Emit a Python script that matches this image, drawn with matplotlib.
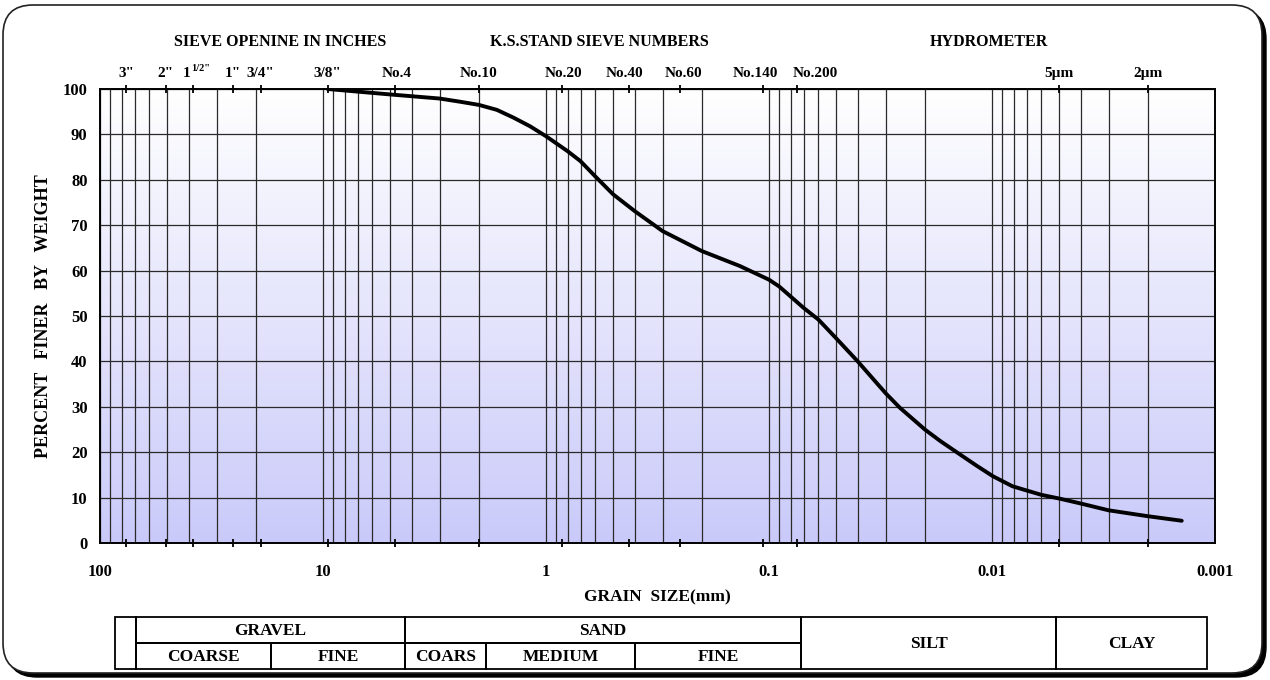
import numpy as np
import matplotlib
matplotlib.use("Agg")
import matplotlib.pyplot as plt
from matplotlib.patches import FancyBboxPatch, Rectangle
from matplotlib.ticker import FixedLocator, LogLocator, NullFormatter

plt.rcParams['font.family'] = ['Liberation Serif', 'DejaVu Serif']
plt.rcParams['font.weight'] = 'bold'

# DATA
grain_size = [9.525, 5.0, 3.0, 2.43, 2.0, 1.66, 1.4, 1.18, 1.0, 0.8, 0.7, 0.6, 0.5, 0.4,
              0.3, 0.2, 0.135, 0.1, 0.09, 0.08, 0.07, 0.06, 0.05, 0.04, 0.03,
              0.0259, 0.02, 0.0171, 0.0144, 0.0117, 0.0099, 0.0081, 0.006, 0.005,
              0.004, 0.003, 0.002, 0.00141]
percent_finer = [100, 98.8, 97.9, 97.2, 96.5, 95.4, 93.7, 91.8, 89.6, 86.3, 84.1, 80.7, 76.8, 73.1,
                 68.7, 64.3, 61.0, 58.0, 56.5, 54.3, 51.8, 49.2, 45.1, 40.0, 33.0,
                 29.8, 25.0, 22.5, 20.0, 17.0, 14.7, 12.5, 10.6, 9.8,
                 8.7, 7.2, 5.9, 4.9]

sieve_sizes = [76.2, 50.8, 38.1, 25.4, 19.05, 9.525, 4.75, 2.0, 0.85, 0.425, 0.25,
               0.106, 0.075, 0.005, 0.002]
sieve_labels = ['3"', '2"', '1', '1"', '3/4"', '3/8"', 'No.4',
                'No.10', 'No.20', 'No.40', 'No.60', 'No.140', 'No.200', '5\u00b5m', '2\u00b5m']
label_shift = [0, 0, -5, 0, 0, 0, 1, 0, 1, -3, 2, -6, 13, 0, 0]  # points

x_major = [100, 10, 1, 0.1, 0.01, 0.001]
x_major_labels = ['100', '10', '1', '0.1', '0.01', '0.001']
y_ticks = list(range(0, 101, 10))

headers = ['SIEVE OPENINE IN INCHES', 'K.S.STAND SIEVE NUMBERS', 'HYDROMETER']

# soil classification table (cells: label, x0, x1, row) row 0=top, 1=bottom, 2=both
table_cells = [('', 115, 136, 2),
               ('GRAVEL', 136, 405, 0), ('COARSE', 136, 271, 1), ('FINE', 271, 405, 1),
               ('SAND', 405, 801, 0), ('COARS', 405, 486, 1), ('MEDIUM', 486, 635, 1),
               ('FINE', 635, 801, 1),
               ('SILT', 801, 1056, 2), ('CLAY', 1056, 1207, 2)]

W, H = 1270, 680
fig = plt.figure(figsize=(W / 100, H / 100), dpi=100)

# overlay in pixel units: frame, background, titles, table
bg = fig.add_axes([0, 0, 1, 1], zorder=0)
bg.set_xlim(0, W)
bg.set_ylim(H, 0)
bg.axis('off')

bg.add_patch(FancyBboxPatch((7, 9), 1259, 668, boxstyle='round,pad=0,rounding_size=30',
                            fc='black', ec='black', lw=1))
bg.add_patch(FancyBboxPatch((3, 5), 1259, 668, boxstyle='round,pad=0,rounding_size=30',
                            fc='white', ec='#222222', lw=1.2))

ax_l, ax_r, ax_t, ax_b = 100, 1215, 89, 543
top_c = np.array([255, 255, 255]) / 255
bot_c = np.array([202, 202, 250]) / 255
t = np.linspace(0, 1, 256).reshape(-1, 1, 1)
grad = top_c * (1 - t) + bot_c * t
bg.imshow(grad, extent=[ax_l, ax_r, ax_b, ax_t], aspect='auto', origin='upper', zorder=1)

bg.text(280, 42, headers[0], ha='center', va='center', fontsize=11.5, fontweight='bold')
bg.text(599, 42, headers[1], ha='center', va='center', fontsize=11.5, fontweight='bold')
bg.text(989, 42, headers[2], ha='center', va='center', fontsize=11.5, fontweight='bold')

row_y = [617, 643, 669]
for lbl, x0, x1, row in table_cells:
    if row == 2:
        y0, y1 = row_y[0], row_y[2]
    else:
        y0, y1 = row_y[row], row_y[row + 1]
    bg.add_patch(Rectangle((x0, y0), x1 - x0, y1 - y0, fc='none', ec='black', lw=1.3, zorder=3))
    if lbl:
        bg.text((x0 + x1) / 2, (y0 + y1) / 2 + 1, lbl, ha='center', va='center',
                fontsize=12.5, fontweight='bold', zorder=4)

# main chart
ax = fig.add_axes([ax_l / W, 1 - ax_b / H, (ax_r - ax_l) / W, (ax_b - ax_t) / H], zorder=1)
ax.set_facecolor('none')
ax.set_xscale('log')
ax.set_xlim(100, 0.001)
ax.set_ylim(0, 100)

ax.xaxis.set_major_locator(FixedLocator(x_major))
ax.set_xticklabels(x_major_labels)
ax.xaxis.set_minor_locator(LogLocator(base=10, subs=np.arange(2, 10), numticks=20))
ax.xaxis.set_minor_formatter(NullFormatter())
ax.set_yticks(y_ticks)
ax.set_yticklabels([str(v) for v in y_ticks])
ax.tick_params(axis='both', which='both', length=0)
ax.tick_params(axis='x', pad=15, labelsize=12)
ax.tick_params(axis='y', pad=9, labelsize=12)
for lab in ax.get_xticklabels() + ax.get_yticklabels():
    lab.set_fontweight('bold')

ax.grid(True, which='both', axis='x', color='#2a2a2a', lw=0.9)
ax.grid(True, which='major', axis='y', color='#2a2a2a', lw=0.9)
for sp in ax.spines.values():
    sp.set_linewidth(1.4)
    sp.set_color('black')

ax.plot(grain_size, percent_finer, color='black', lw=2.8, solid_capstyle='round',
        solid_joinstyle='round', zorder=5)

ax.plot(sieve_sizes, [100] * len(sieve_sizes), '+', color='black', ms=6, mew=1.3,
        clip_on=False, zorder=6)
ax.plot(sieve_sizes, [0] * len(sieve_sizes), '+', color='black', ms=6, mew=1.3,
        clip_on=False, zorder=6)
for s, lbl, dx in zip(sieve_sizes, sieve_labels, label_shift):
    ax.annotate(lbl, xy=(s, 100), xytext=(dx, 11.5), textcoords='offset points',
                ha='center', va='center', fontsize=11, fontweight='bold')
# superscript part of 1 1/2"
ax.annotate('1/2"', xy=(sieve_sizes[2], 100), xytext=(-1.5, 15), textcoords='offset points',
            ha='left', va='center', fontsize=7.5, fontweight='bold')

ax.set_xlabel('GRAIN  SIZE(mm)', fontsize=12.5, fontweight='bold', labelpad=7)
ax.set_ylabel('PERCENT   FINER   BY   WEIGHT', fontsize=13, fontweight='bold', labelpad=8)

fig.savefig('out.png', dpi=100)
